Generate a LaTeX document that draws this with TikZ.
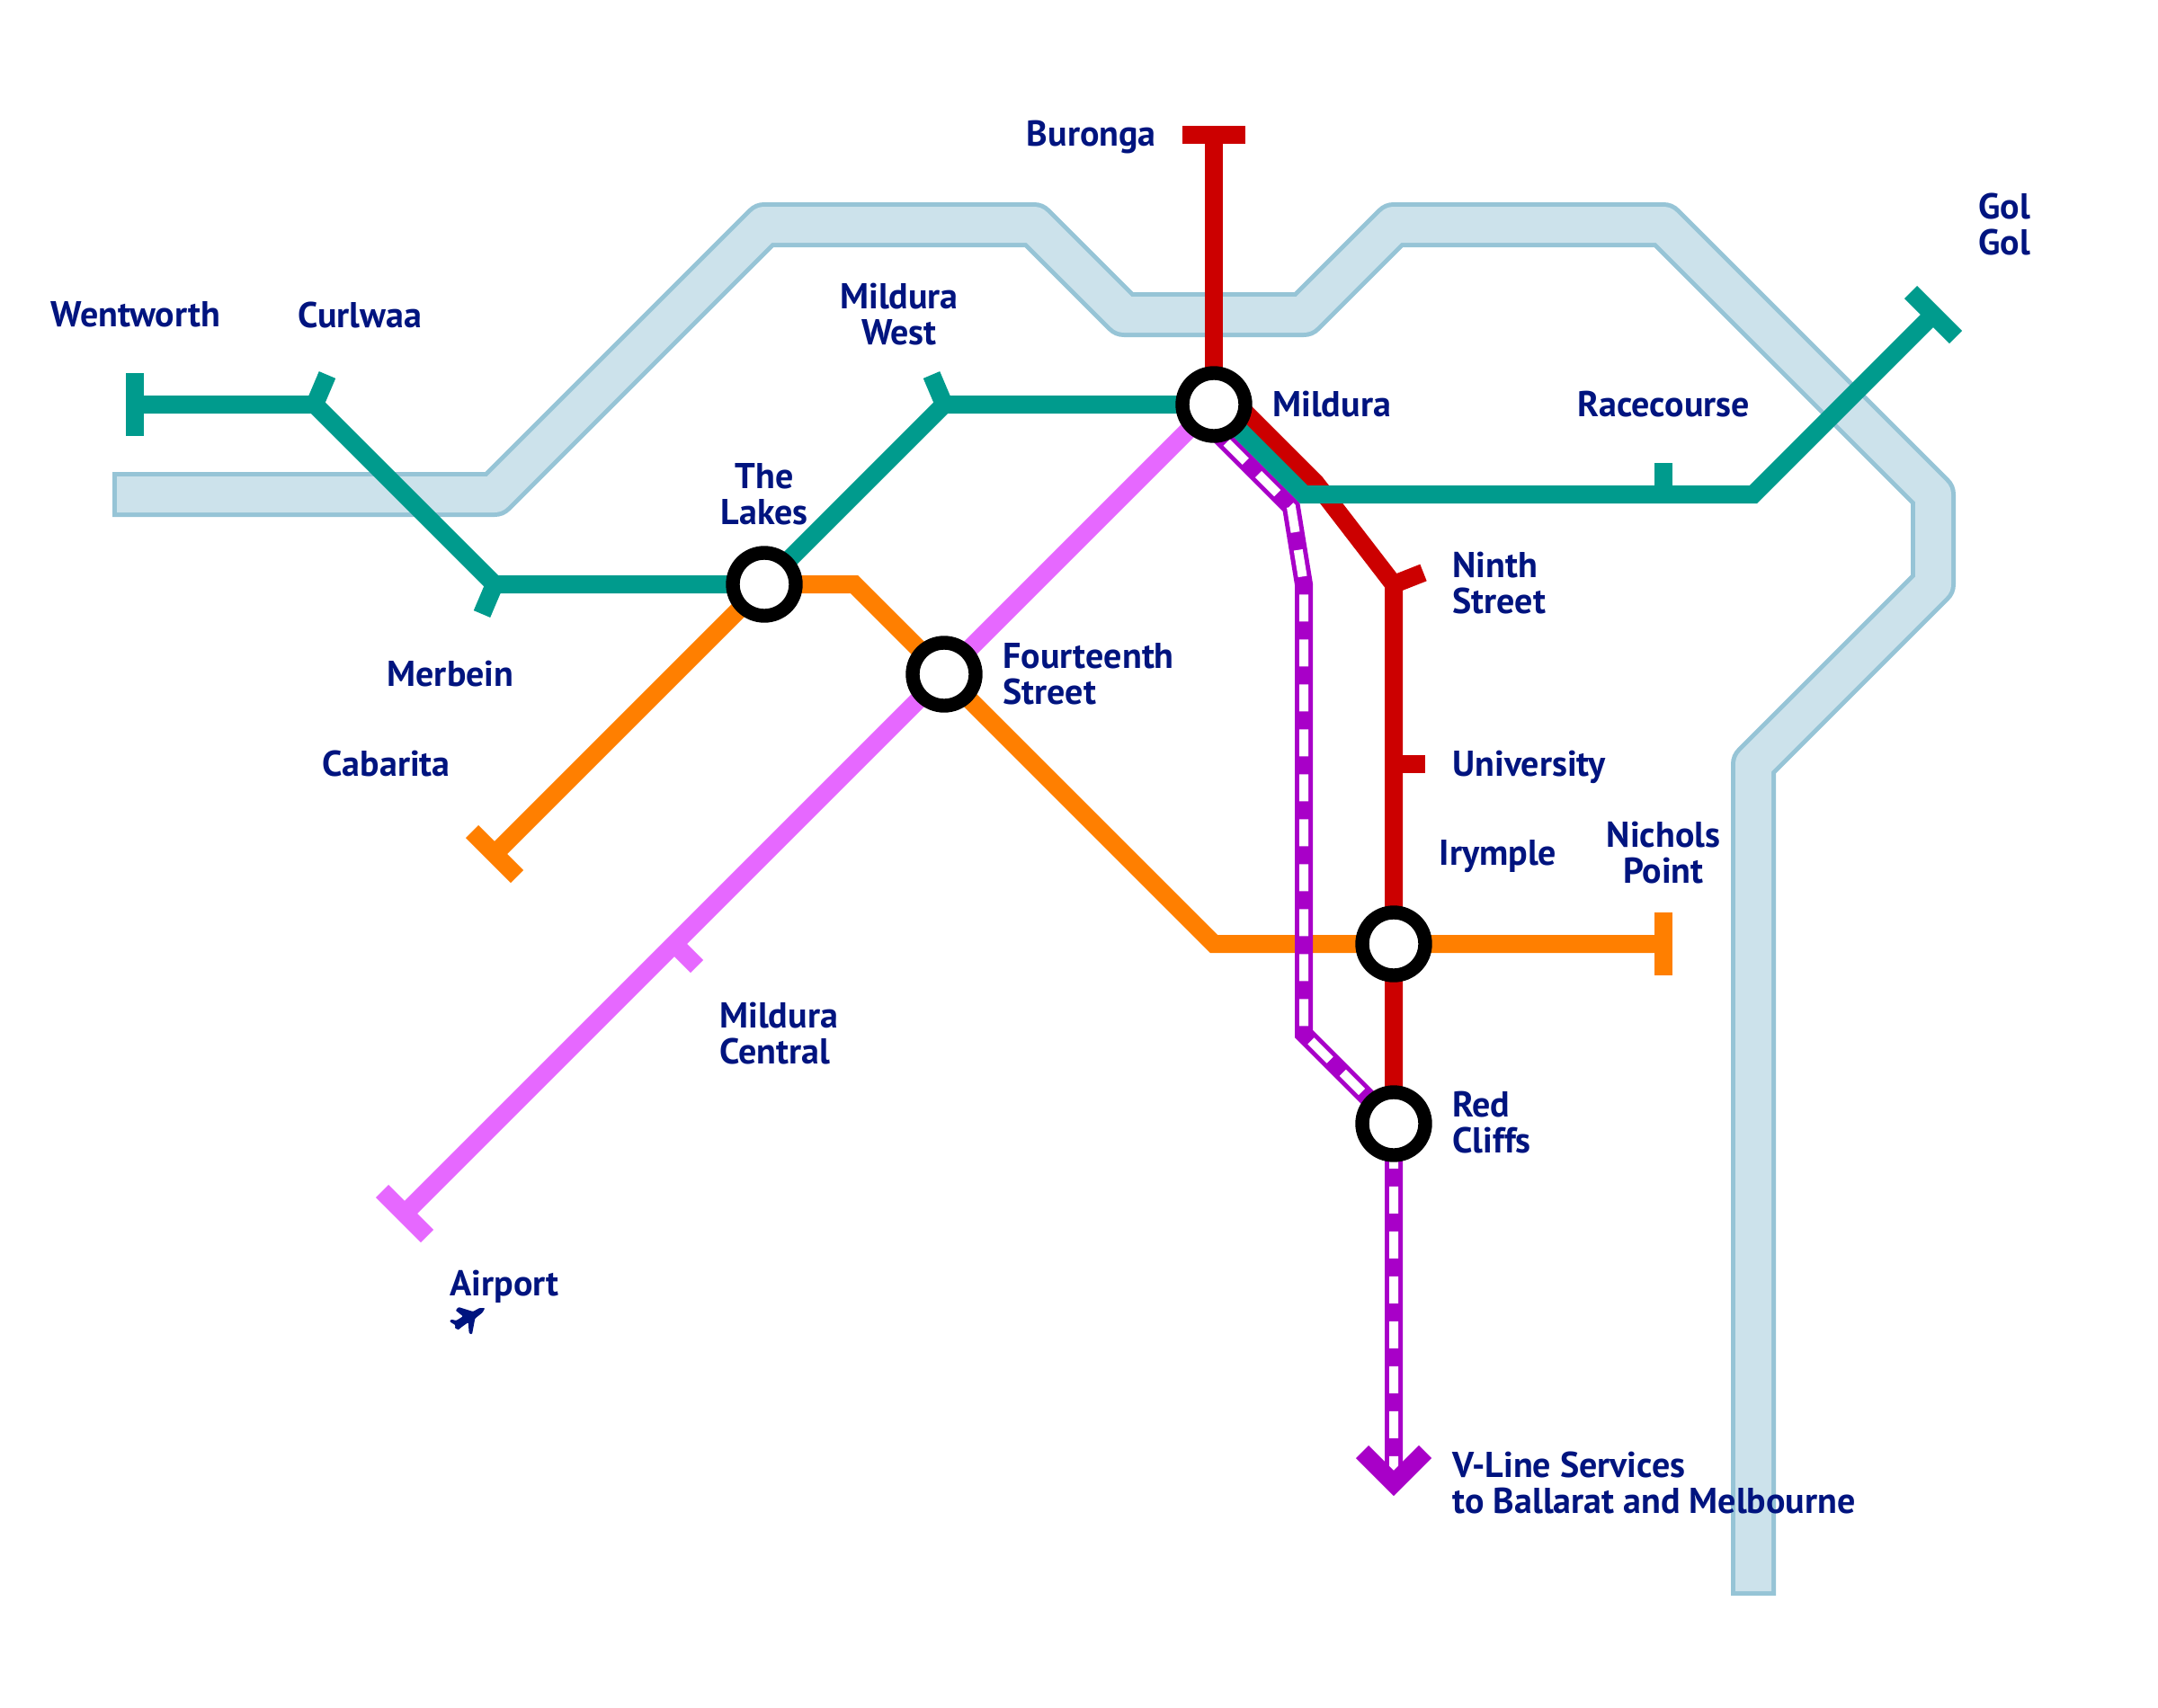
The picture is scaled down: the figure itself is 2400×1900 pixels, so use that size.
\documentclass[tikz,border=0pt]{standalone}
\usepackage{fontspec}
\setmainfont{PT Sans}
\usetikzlibrary{backgrounds}
\definecolor{linkteal}{HTML}{009B8D}
\definecolor{linkred}{HTML}{CC0000}
\definecolor{linkorange}{HTML}{FF7F00}
\definecolor{linkpink}{HTML}{E668FF}
\definecolor{linkpurple}{HTML}{A800C8}
\definecolor{labelnavy}{HTML}{00147F}
\definecolor{riverfill}{HTML}{CCE2EB}
\definecolor{riveredge}{HTML}{96C4D6}
\tikzset{x=0.5pt,y=-0.5pt,
	route/.style={line width=10pt,line join=miter},
	hub/.style={circle,draw=black,fill=white,line width=7.7pt,minimum size=35pt,inner sep=0pt,outer sep=0pt},
	place/.style={text=labelnavy,font=\fontsize{20}{20}\selectfont\bfseries,inner sep=0pt,align=center},
	placeleft/.style={place,align=left,anchor=west},
	vlinedash/.style={line width=5pt,white,dash pattern=on 15pt off 10pt,dash phase=15pt}}

\begin{document}
\begin{tikzpicture}
	\useasboundingbox (0,0) rectangle (2400,1900);

	\node[hub] (mildura) at (1350,450) {};
	\node[hub] (lakes) at (850,650) {};
	\node[hub] (fourteenth) at (1050,750) {};
	\node[hub] (irymple) at (1550,1050) {};
	\node[hub] (redcliffs) at (1550,1250) {};

	\coordinate (riverA) at (125,550);
	\coordinate (riverB) at (550,550);
	\coordinate (riverC) at (850,250);
	\coordinate (riverD) at (1150,250);
	\coordinate (riverE) at (1250,350);
	\coordinate (riverF) at (1450,350);
	\coordinate (riverG) at (1550,250);
	\coordinate (riverH) at (1850,250);
	\coordinate (riverI) at (2150,550);
	\coordinate (riverJ) at (2150,650);
	\coordinate (riverK) at (1950,850);
	\coordinate (riverL) at (1950,1775);

	\coordinate (wentworth) at (150,450);
	\coordinate (wentworthA) at (150,415);
	\coordinate (wentworthB) at (150,485);
	\coordinate (curlwaa) at (350,450);
	\coordinate (curlwaaT) at (364,417);
	\coordinate (merbein) at (550,650);
	\coordinate (merbeinT) at (536,683);
	\coordinate (west) at (1050,450);
	\coordinate (westT) at (1036,417);
	\coordinate (tealbend) at (1450,550);
	\coordinate (racecourse) at (1850,550);
	\coordinate (racecourseT) at (1850,515);
	\coordinate (tealup) at (1950,550);
	\coordinate (golgol) at (2150,350);
	\coordinate (golgolA) at (2125,325);
	\coordinate (golgolB) at (2175,375);

	\coordinate (buronga) at (1350,150);
	\coordinate (burongaA) at (1315,150);
	\coordinate (burongaB) at (1385,150);
	\coordinate (redstart) at (1376,450);
	\coordinate (redbend) at (1463,537);
	\coordinate (ninth) at (1550,650);
	\coordinate (ninthT) at (1583,637);
	\coordinate (university) at (1550,850);
	\coordinate (universityT) at (1585,850);

	\coordinate (cabarita) at (550,950);
	\coordinate (cabaritaA) at (525,925);
	\coordinate (cabaritaB) at (575,975);
	\coordinate (orangeA) at (950,650);
	\coordinate (orangeB) at (1350,1050);
	\coordinate (nichols) at (1850,1050);
	\coordinate (nicholsA) at (1850,1015);
	\coordinate (nicholsB) at (1850,1085);

	\coordinate (airport) at (450,1350);
	\coordinate (airportA) at (425,1325);
	\coordinate (airportB) at (475,1375);
	\coordinate (central) at (750,1050);
	\coordinate (centralT) at (775,1075);

	\coordinate (vstart) at (1350,478);
	\coordinate (vbendA) at (1436,564);
	\coordinate (vbendB) at (1450,650);
	\coordinate (vbendC) at (1450,1150);
	\coordinate (vtip) at (1550,1650);
	\coordinate (vtipA) at (1515,1615);
	\coordinate (vtipB) at (1585,1615);

	\begin{pgfonlayer}{background}
	\draw[line width=25pt,line join=round,riveredge] (riverA) -- (riverB) -- (riverC) -- (riverD) -- (riverE) -- (riverF) -- (riverG) -- (riverH) -- (riverI) -- (riverJ) -- (riverK) -- (riverL);
	\draw[line width=20pt,line join=round,riverfill] ([xshift=2.5pt]riverA) -- (riverB) -- (riverC) -- (riverD) -- (riverE) -- (riverF) -- (riverG) -- (riverH) -- (riverI) -- (riverJ) -- (riverK) -- ([yshift=2.5pt]riverL);
	\draw[route,linkorange] (cabarita) -- (lakes.center) -- (orangeA) -- (orangeB) -- (nichols);
	\draw[route,linkorange] (cabaritaA) -- (cabaritaB);
	\draw[route,linkorange] (nicholsA) -- (nicholsB);
	\draw[route,linkpink] (airport) -- (mildura.center);
	\draw[route,linkpink] (airportA) -- (airportB);
	\draw[route,linkpink] (central) -- (centralT);
	\draw[route,linkpurple] (vstart) -- (vbendA) -- (vbendB) -- (vbendC) -- (redcliffs.center) -- (vtip);
	\draw[vlinedash] (vstart) -- (vbendA) -- (vbendB) -- (vbendC) -- (redcliffs.center) -- (vtip);
	\draw[route,linkpurple] (vtipA) -- (vtip) -- (vtipB);
	\draw[route,linkred] (buronga) -- (mildura.center);
	\draw[route,linkred] (burongaA) -- (burongaB);
	\draw[route,linkred] (redstart) -- (redbend) -- (ninth) -- (irymple.center) -- (redcliffs.center);
	\draw[route,linkred] (ninth) -- (ninthT);
	\draw[route,linkred] (university) -- (universityT);
	\draw[route,linkteal] (wentworth) -- (curlwaa) -- (merbein) -- (lakes.center) -- (west) -- (mildura.center) -- (tealbend) -- (tealup) -- (golgol);
	\draw[route,linkteal] (wentworthA) -- (wentworthB);
	\draw[route,linkteal] (curlwaa) -- (curlwaaT);
	\draw[route,linkteal] (merbein) -- (merbeinT);
	\draw[route,linkteal] (west) -- (westT);
	\draw[route,linkteal] (racecourse) -- (racecourseT);
	\draw[route,linkteal] (golgolA) -- (golgolB);
	\end{pgfonlayer}

	\node[place,anchor=east] (lburonga) at (1286,153) {Buronga};
	\node[place] (lwentworth) at (151,350) {Wentworth};
	\node[place] (lcurlwaa) at (400,350) {Curlwaa};
	\node[place] (lwest) at (1000,350) {Mildura\\West};
	\node[place] (llakes) at (850,550) {The\\Lakes};
	\node[place] (lmerbein) at (501,750) {Merbein};
	\node[place,anchor=east] (lcabarita) at (501,849) {Cabarita};
	\node[placeleft] (lfourteenth) at (1115,750) {Fourteenth\\Street};
	\node[placeleft] (lmildura) at (1415,450) {Mildura};
	\node[place] (lracecourse) at (1850,450) {Racecourse};
	\node[place] (lgolgol) at (2229,249) {Gol\\Gol};
	\node[placeleft] (lninth) at (1615,649) {Ninth\\Street};
	\node[placeleft] (luniversity) at (1615,853) {University};
	\node[place] (lirymple) at (1666,953) {Irymple};
	\node[place] (lnichols) at (1850,949) {Nichols\\Point};
	\node[placeleft] (lcentral) at (800,1150) {Mildura\\Central};
	\node[placeleft] (lredcliffs) at (1615,1249) {Red\\Cliffs};
	\node[placeleft] (lairport) at (500,1431) {Airport};
	\node[placeleft] (lvline) at (1615,1649) {V-Line Services\\to Ballarat and Melbourne};
	\fill[labelnavy,rounded corners=0.5pt] (539.3,1455) -- (536.7,1460) -- (528.3,1466.7) -- (525,1484.3) -- (521.7,1483.3) -- (520.7,1471) -- (512.7,1476.7) -- (510,1479.3) -- (505.7,1477.3) -- (506.7,1474.3) -- (500,1470) -- (501.7,1467.7) -- (507.3,1469) -- (515,1464.3) -- (506.7,1457.7) -- (510,1454) -- (526,1459) -- (533.3,1455) -- cycle;
\end{tikzpicture}
\end{document}
